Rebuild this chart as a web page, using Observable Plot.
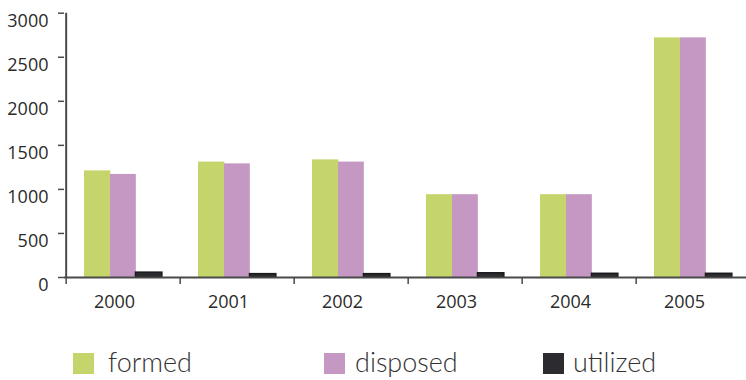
<!DOCTYPE html>
<html>
<head>
<meta charset="utf-8">
<script src="https://cdn.jsdelivr.net/npm/d3@7"></script>
<script src="https://cdn.jsdelivr.net/npm/@observablehq/plot@0.6"></script>
<style>
  html, body { margin: 0; padding: 0; background: #fff; }
  #chart { width: 746px; }
  .legend { position: relative; width: 746px; height: 60px; font-family: Lato, "Open Sans", sans-serif; font-weight: 300; color: #333; }
  .legend .sw { position: absolute; top: 33px; width: 21px; height: 21px; }
  .legend .lb { position: absolute; top: 24px; font-size: 27px; line-height: 36px; }
</style>
</head>
<body>
<div id="chart"></div>
<script>
// Waste handled per year (tonnes)
const years = ["2000", "2001", "2002", "2003", "2004", "2005"];
const formed = [1210, 1310, 1335, 940, 940, 2720];
const disposed = [1170, 1290, 1310, 940, 940, 2720];
const utilized = [55, 38, 38, 48, 42, 42];
const yTicks = [0, 500, 1000, 1500, 2000, 2500, 3000];
const seriesNames = ["formed", "disposed", "utilized"];
const seriesColors = ["#c5d46b", "#c498c3", "#2c2c30"];

const rows = years.map((year, i) => ({year, formed: formed[i], disposed: disposed[i], utilized: utilized[i]}));

const left = 64, right = 752;
const bw = (right - left) / years.length;
const axisColor = "#4a4a4a";

const chart = Plot.plot({
  width: 746,
  height: 320,
  marginLeft: left,
  marginRight: 0,
  marginTop: 12,
  marginBottom: 43,
  x: {type: "band", domain: years, range: [left, right], padding: 0, label: null},
  y: {domain: [0, 3000], range: [277, 12.7], label: null},
  style: {fontFamily: "'Open Sans', sans-serif", fontSize: "18px", color: "#2b2b2b", background: "#fff", overflow: "visible"},
  marks: [
    Plot.barY(rows, {x: "year", y: "formed", fill: seriesColors[0], insetLeft: 18, insetRight: bw - 45}),
    Plot.barY(rows, {x: "year", y: "disposed", fill: seriesColors[1], insetLeft: 44, insetRight: bw - 70.5}),
    Plot.barY(rows, {x: "year", y: "utilized", fill: seriesColors[2], stroke: "#1a1a1d", strokeWidth: 1.5, insetLeft: 69.5, insetRight: bw - 96.5}),
    // baseline and vertical axis line
    Plot.ruleY([0], {stroke: axisColor, strokeWidth: 2}),
    Plot.ruleX([years[0]], {y1: 0, y2: 3000, dx: -bw / 2, stroke: axisColor, strokeWidth: 2}),
    // y ticks and labels
    Plot.axisY(yTicks, {tickSize: 6, tickFormat: () => "", label: null, stroke: axisColor, strokeWidth: 1.5}),
    Plot.axisY(yTicks, {tickSize: 0, tickPadding: 16, dy: 8, label: null, tickFormat: d => String(d), fontSize: 18}),
    // x ticks on band boundaries, labels under each group
    Plot.axisX({tickSize: 7, tickFormat: () => "", label: null, dx: -bw / 2, stroke: axisColor, strokeWidth: 1.5}),
    Plot.axisX({tickSize: 0, tickPadding: 18, dx: -9, label: null, fontSize: 18})
  ]
});
document.getElementById("chart").append(chart);

// legend below the plot
const legend = document.createElement("div");
legend.className = "legend";
const swatchLeft = [73, 324, 543];
const labelLeft = [108, 355, 573];
seriesNames.forEach((name, i) => {
  const sw = document.createElement("div");
  sw.className = "sw";
  sw.style.left = swatchLeft[i] + "px";
  sw.style.background = seriesColors[i];
  const lb = document.createElement("div");
  lb.className = "lb";
  lb.style.left = labelLeft[i] + "px";
  lb.textContent = name;
  legend.append(sw, lb);
});
document.getElementById("chart").append(legend);
</script>
</body>
</html>
